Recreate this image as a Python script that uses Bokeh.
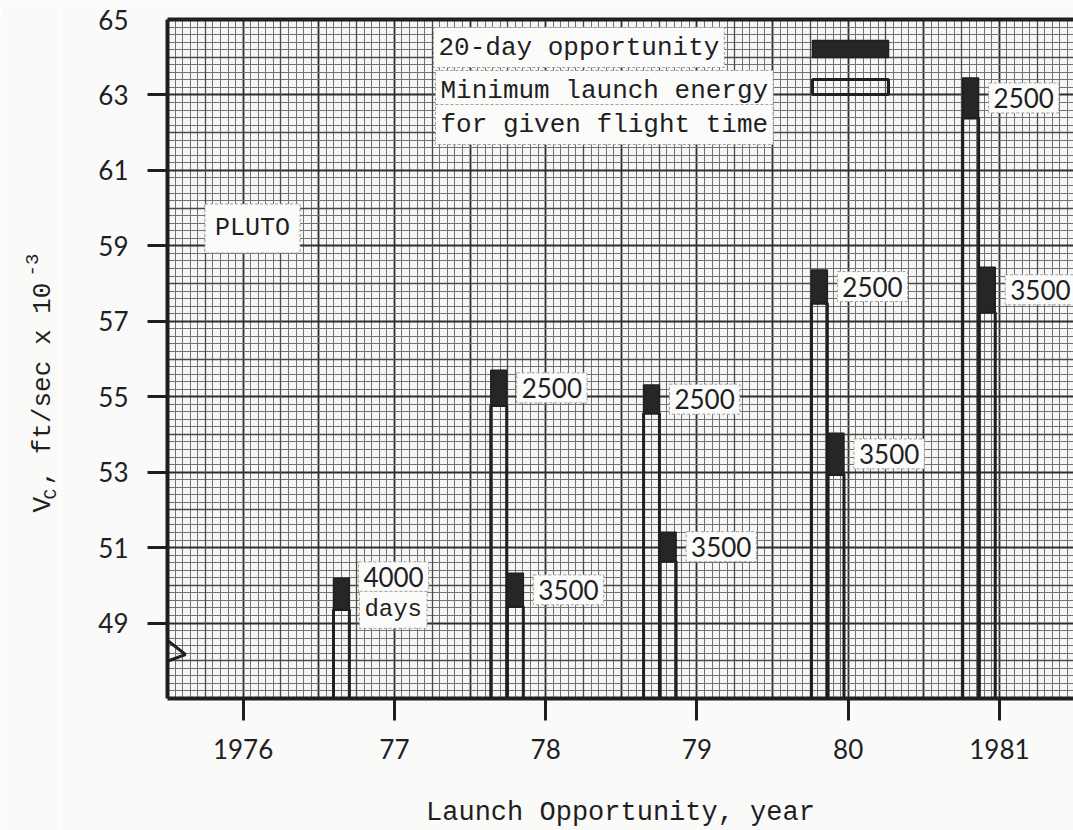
import math
import numpy as np
from bokeh.plotting import figure
from bokeh.layouts import row
from bokeh.models import Range1d, FixedTicker, Grid, Label, LinearAxis
from bokeh.core.properties import value
from bokeh.embed import file_html
from bokeh.resources import INLINE

# ---------------- data ----------------
launch_year = [1976.65, 1977.69, 1977.80, 1978.70, 1978.81, 1979.81, 1979.92, 1980.81, 1980.92]
flight_days = [4000, 2500, 3500, 2500, 3500, 2500, 3500, 2500, 3500]
vc_min = [49.36, 54.77, 49.44, 54.56, 50.64, 57.48, 52.94, 62.39, 57.24]   # minimum launch energy
vc_max = [50.19, 55.70, 50.32, 55.31, 51.41, 58.36, 54.03, 63.45, 58.43]   # top of 20-day opportunity
bar_width = 0.105

year_ticks = [1976, 1977, 1978, 1979, 1980, 1981]
year_labels = ["1976", "77", "78", "79", "80", "1981"]
vc_ticks = [49, 51, 53, 55, 57, 59, 61, 63]
vc_label_ticks = [49, 51, 53, 55, 57, 59, 61, 63, 65]

legend_filled = "20-day opportunity"
legend_open_1 = "Minimum launch energy"
legend_open_2 = "for given flight time"
planet = "PLUTO"
x_title = "Launch Opportunity, year"

# ---------------- layout ----------------
W, H = 1073, 830
LW = 60                       # width of the strip that holds the y title
FL, FT, FB, FR = 167, 19, 698, W
X0, X1 = 1975.5, 1981.49
Y0, Y1 = 47, 65

def sx(px):
    return X0 + (px - FL) * (X1 - X0) / (FR - FL)

def sy(py):
    return Y1 - (py - FT) * (Y1 - Y0) / (FB - FT)

INK = "#1f1f1f"
PAGE = "#fafaf9"
NUM_FONT = "Lato"
TYPE_FONT = "Liberation Mono"

p = figure(frame_width=FR - FL, frame_height=FB - FT,
           x_range=Range1d(X0, X1), y_range=Range1d(Y0, Y1), title=None,
           output_backend="svg", toolbar_location=None,
           min_border_left=FL - LW, min_border_right=0, min_border_top=FT,
           min_border_bottom=H - FB)
p.background_fill_color = "#f6f6f4"
p.border_fill_color = PAGE
p.outline_line_color = None

# ---------------- graph paper ----------------
major_x = list(np.arange(1975.5, 1981.51, 0.5))
mid_x = list(np.arange(1975.75, 1981.51, 0.5))
minor_x = list(np.arange(1975.5, 1981.51, 0.05))
major_y = list(np.arange(47, 65.01, 2))
mid_y = list(np.arange(48, 65.01, 2))
minor_y = list(np.arange(47, 65.01, 0.2))

p.xgrid.ticker = FixedTicker(ticks=major_x, minor_ticks=minor_x)
p.ygrid.ticker = FixedTicker(ticks=major_y, minor_ticks=minor_y)
for g in (p.xgrid, p.ygrid):
    g.grid_line_color = "#2e2e2e"
    g.grid_line_width = 1.8
    g.minor_grid_line_color = "#727272"
    g.minor_grid_line_width = 1
p.add_layout(Grid(dimension=0, ticker=FixedTicker(ticks=mid_x), grid_line_color="#4a4a4a", grid_line_width=1.3))
p.add_layout(Grid(dimension=1, ticker=FixedTicker(ticks=mid_y), grid_line_color="#4a4a4a", grid_line_width=1.3))

# ---------------- axes ----------------
p.xaxis.ticker = FixedTicker(ticks=year_ticks)
p.xaxis.major_label_overrides = {t: l for t, l in zip(year_ticks, year_labels)}
p.xaxis.major_tick_out = 22
p.xaxis.major_tick_in = 0
p.xaxis.minor_tick_out = 0
p.xaxis.minor_tick_in = 0
p.xaxis.major_label_standoff = 18
p.xaxis.axis_label = x_title
p.xaxis.axis_label_text_font = TYPE_FONT
p.xaxis.axis_label_text_font_size = "27px"
p.xaxis.axis_label_text_font_style = "normal"
p.xaxis.axis_label_text_color = INK
p.xaxis.axis_label_standoff = 36
p.xaxis.major_label_text_font = NUM_FONT
p.xaxis.major_label_text_font_size = "26px"
p.xaxis.major_label_text_color = INK

# y axis, part 1: line and tick marks (no labels)
yax = p.yaxis[0]
yax.ticker = FixedTicker(ticks=vc_ticks)
yax.major_label_overrides = {t: "" for t in vc_ticks}
yax.major_label_standoff = 0
yax.major_tick_out = 20
yax.major_tick_in = 0
yax.minor_tick_out = 0
yax.minor_tick_in = 0

for ax in (p.xaxis[0], yax):
    ax.axis_line_width = 4
    ax.axis_line_color = INK
    ax.major_tick_line_width = 3
    ax.major_tick_line_color = INK

# y axis, part 2: the labels (65 has no tick mark on the paper)
ylab = LinearAxis(ticker=FixedTicker(ticks=vc_label_ticks), axis_line_color=None,
                  major_tick_out=0, major_tick_in=0, minor_tick_out=0, minor_tick_in=0,
                  major_label_standoff=19, major_label_text_font=NUM_FONT,
                  major_label_text_font_size="26px", major_label_text_color=INK)
p.add_layout(ylab, "left")

top = LinearAxis(ticker=FixedTicker(ticks=[]), major_tick_out=0, major_tick_in=0,
                 minor_tick_out=0, minor_tick_in=0, major_label_standoff=0,
                 axis_line_width=4, axis_line_color=INK)
p.add_layout(top, "above")

# axis-break zigzag
p.line(x=[sx(167), sx(185), sx(147), sx(167)], y=[sy(640), sy(654), sy(668), sy(684)],
       line_color=INK, line_width=3)

# ---------------- bars ----------------
left = [x - bar_width / 2 for x in launch_year]
right = [x + bar_width / 2 for x in launch_year]
p.quad(left=left, right=right, bottom=[Y0] * len(launch_year), top=vc_min,
       fill_color=None, line_color=INK, line_width=3)
p.quad(left=left, right=right, bottom=vc_min, top=vc_max,
       fill_color="#262626", line_color=INK, line_width=1.5)

BOX = dict(background_fill_color="#fbfbfa", border_line_color="#a0a0a0",
           border_line_dash="3 2", border_line_width=1, padding=5)

for xr, lo, hi, d in zip(right, vc_min, vc_max, flight_days):
    yc = (lo + hi) / 2
    if d == 4000:
        p.add_layout(Label(x=xr, y=yc, x_offset=9, y_offset=17, text=str(d),
                           text_align="left", text_baseline="middle", text_font=NUM_FONT,
                           text_font_size="26px", text_color=INK, **BOX))
        p.add_layout(Label(x=xr, y=yc, x_offset=10, y_offset=-16, text="days",
                           text_align="left", text_baseline="middle", text_font=TYPE_FONT,
                           text_font_size="24px", text_color=INK, **BOX))
    else:
        p.add_layout(Label(x=xr, y=yc, x_offset=10, text=str(d),
                           text_align="left", text_baseline="middle", text_font=NUM_FONT,
                           text_font_size="26px", text_color=INK, **BOX))

# ---------------- legend ----------------
for txt, px_, py_ in ((legend_filled, 433, 47), (legend_open_1, 435, 90), (legend_open_2, 435, 124)):
    p.add_layout(Label(x=sx(px_), y=sy(py_), text=txt, text_align="left", text_baseline="middle",
                       text_font=TYPE_FONT, text_font_size="26px", text_color=INK, **BOX))
p.quad(left=[sx(812)], right=[sx(888)], bottom=[sy(57)], top=[sy(40)],
       fill_color="#262626", line_color=INK, line_width=1.5)
p.quad(left=[sx(812)], right=[sx(888)], bottom=[sy(94)], top=[sy(79)],
       fill_color=None, line_color=INK, line_width=3)

p.add_layout(Label(x=sx(252), y=sy(228), text=planet, text_align="center", text_baseline="middle",
                   text_font=TYPE_FONT, text_font_size="25px", text_color=INK,
                   background_fill_color="#fbfbfa", border_line_color="#a0a0a0",
                   border_line_dash="3 2", border_line_width=1, padding=10))

# ---------------- y title strip ----------------
t = figure(frame_width=LW, frame_height=H, x_range=Range1d(0, LW), y_range=Range1d(0, H),
           x_axis_type=None, y_axis_type=None, title=None,
           output_backend="svg", toolbar_location=None,
           min_border=0, min_border_left=0, min_border_right=0, min_border_top=0, min_border_bottom=0)
t.outline_line_color = None
t.background_fill_color = PAGE
t.border_fill_color = PAGE

ang = math.pi / 2
tf = value(TYPE_FONT)
# (x, y measured from the page's top-left corner)
for txt, px_, py_, size in (("V", 42, 493, "26px"), ("C", 50, 480, "18px"),
                            (", ft/sec x 10", 42, 466, "26px"), ("-3", 31, 257, "19px")):
    t.text(x=[px_], y=[H - py_], text=[txt], angle=ang, text_align="left",
           text_baseline="alphabetic", text_font=tf, text_font_size=size, text_color=INK)

layout = row(t, p, spacing=0)
open("out.html", "w").write(file_html(layout, INLINE))
